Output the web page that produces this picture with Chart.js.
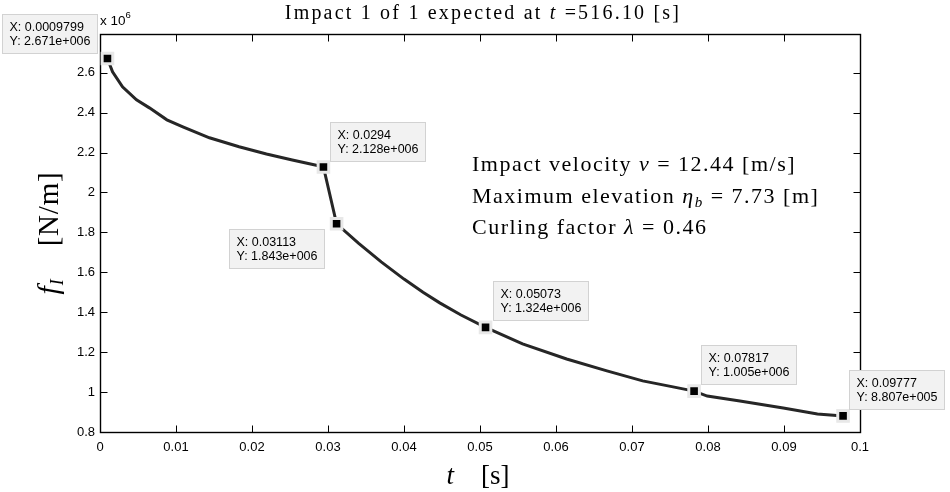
<!DOCTYPE html>
<html>
<head>
<meta charset="utf-8">
<script src="https://cdn.jsdelivr.net/npm/chart.js@4/dist/chart.umd.min.js"></script>
<style>
  html, body { margin: 0; padding: 0; background: #ffffff; }
  #wrap { width: 950px; height: 492px; }
</style>
</head>
<body>
<div id="wrap"><canvas id="chart" width="950" height="492"></canvas></div>
<script>
// Impact force time history f_I(t)
const timeS = [0.0009799, 0.00165, 0.00296, 0.0048, 0.0065, 0.0088, 0.0109, 0.0144, 0.0183,
  0.0219, 0.0253, 0.0289, 0.0294, 0.03113, 0.0340, 0.0370, 0.0400, 0.0425, 0.0447, 0.0475,
  0.05073, 0.0556, 0.0614, 0.0667, 0.0714, 0.0754, 0.07817, 0.0799, 0.0842, 0.0899, 0.0944, 0.09777];
const forceNm = [2.671e6, 2.605e6, 2.529e6, 2.464e6, 2.424e6, 2.364e6, 2.329e6, 2.274e6, 2.229e6,
  2.193e6, 2.163e6, 2.133e6, 2.128e6, 1.843e6, 1.746e6, 1.652e6, 1.566e6, 1.500e6, 1.447e6, 1.386e6,
  1.324e6, 1.241e6, 1.166e6, 1.106e6, 1.056e6, 1.026e6, 1.005e6, 0.980e6, 0.955e6, 0.920e6, 0.890e6, 8.807e5];

// Data cursor points
const tipTime = [0.0009799, 0.0294, 0.03113, 0.05073, 0.07817, 0.09777];
const tipForce = [2.671e6, 2.128e6, 1.843e6, 1.324e6, 1.005e6, 8.807e5];
const tipXText = ['0.0009799', '0.0294', '0.03113', '0.05073', '0.07817', '0.09777'];
const tipYText = ['2.671e+006', '2.128e+006', '1.843e+006', '1.324e+006', '1.005e+006', '8.807e+005'];

// Axis ticks
const xTicks = [0, 0.01, 0.02, 0.03, 0.04, 0.05, 0.06, 0.07, 0.08, 0.09, 0.1];
const xTickLabels = ['0', '0.01', '0.02', '0.03', '0.04', '0.05', '0.06', '0.07', '0.08', '0.09', '0.1'];
const yTicks = [0.8e6, 1.0e6, 1.2e6, 1.4e6, 1.6e6, 1.8e6, 2.0e6, 2.2e6, 2.4e6, 2.6e6];
const yTickLabels = ['0.8', '1', '1.2', '1.4', '1.6', '1.8', '2', '2.2', '2.4', '2.6'];

const SANS = "'Liberation Sans', Arial, sans-serif";
const SERIF = "'Liberation Serif', 'Times New Roman', serif";

// Draw a sequence of text runs with individual fonts / vertical shifts
function drawRuns(ctx, runs, x, y, align, spacing) {
  const widths = runs.map(r => { ctx.font = r.font; ctx.letterSpacing = (r.ls ?? spacing ?? 0) + 'px'; return ctx.measureText(r.t).width; });
  const total = widths.reduce((a, b) => a + b, 0);
  let cx = align === 'center' ? x - total / 2 : x;
  runs.forEach((r, i) => {
    ctx.font = r.font;
    ctx.letterSpacing = (r.ls ?? spacing ?? 0) + 'px';
    ctx.fillText(r.t, cx, y + (r.dy || 0));
    cx += widths[i];
  });
  ctx.letterSpacing = '0px';
}

// Axes box with inward ticks on all four sides, plus labels and data tips
const framePlugin = {
  id: 'frame',
  beforeDatasetsDraw(chart) {
    const { ctx, chartArea: a, scales: { x, y } } = chart;
    ctx.save();
    ctx.strokeStyle = '#000';
    ctx.lineWidth = 1;
    const L = Math.round(a.left) + 0.5, R = Math.round(a.right) + 0.5;
    const T = Math.round(a.top) + 0.5, B = Math.round(a.bottom) + 0.5;
    const tl = 7;
    ctx.beginPath();
    xTicks.forEach(v => {
      const px = Math.round(x.getPixelForValue(v)) + 0.5;
      ctx.moveTo(px, B); ctx.lineTo(px, B - tl);
      ctx.moveTo(px, T); ctx.lineTo(px, T + tl);
    });
    yTicks.forEach(v => {
      const py = Math.round(y.getPixelForValue(v)) + 0.5;
      ctx.moveTo(L, py); ctx.lineTo(L + tl, py);
      ctx.moveTo(R, py); ctx.lineTo(R - tl, py);
    });
    ctx.stroke();
    ctx.lineWidth = 1.4;
    ctx.strokeRect(L, T, R - L, B - T);
    ctx.restore();
  },
  afterDatasetsDraw(chart) {
    const { ctx, chartArea: a, scales: { x, y } } = chart;
    ctx.save();
    ctx.fillStyle = '#000';
    ctx.textBaseline = 'alphabetic';
    const midX = (a.left + a.right) / 2;
    const midY = (a.top + a.bottom) / 2;

    // Title
    drawRuns(ctx, [
      { t: 'Impact 1 of 1 expected at ', font: `20px ${SERIF}` },
      { t: 't', font: `italic 20px ${SERIF}` },
      { t: ' =516.10 [s]', font: `20px ${SERIF}` }
    ], midX + 3, 19, 'center', 2.2);

    // Exponent marker
    drawRuns(ctx, [
      { t: 'x 10', font: `13.5px ${SANS}` },
      { t: '6', font: `9.5px ${SANS}`, dy: -7 }
    ], a.left, 25, 'left', 0);

    // Impact summary text
    const tx = a.left + 372;
    drawRuns(ctx, [
      { t: 'Impact velocity ', font: `22px ${SERIF}` },
      { t: 'v', font: `italic 22px ${SERIF}` },
      { t: ' = 12.44 [m/s]', font: `22px ${SERIF}` }
    ], tx, a.top + 137, 'left', 1.5);
    drawRuns(ctx, [
      { t: 'Maximum elevation ', font: `22px ${SERIF}` },
      { t: 'η', font: `italic 22px ${SERIF}` },
      { t: 'b', font: `italic 15px ${SERIF}`, dy: 4 },
      { t: ' = 7.73 [m]', font: `22px ${SERIF}` }
    ], tx, a.top + 169, 'left', 1.5);
    drawRuns(ctx, [
      { t: 'Curling factor ', font: `22px ${SERIF}` },
      { t: 'λ', font: `italic 22px ${SERIF}` },
      { t: ' = 0.46', font: `22px ${SERIF}` }
    ], tx, a.top + 200, 'left', 1.5);

    // Axis titles
    drawRuns(ctx, [
      { t: 't', font: `italic 27px ${SERIF}` },
      { t: '    [s]', font: `27px ${SERIF}` }
    ], midX - 2, 484, 'center', 0);

    ctx.save();
    ctx.translate(58, midY);
    ctx.rotate(-Math.PI / 2);
    drawRuns(ctx, [
      { t: 'f', font: `italic 30px ${SERIF}` },
      { t: 'I', font: `italic 18px ${SERIF}`, dy: 5 },
      { t: '    [N/m]', font: `29px ${SERIF}` }
    ], 0, 0, 'center', 0.8);
    ctx.restore();

    // Data tips
    const offsets = [[-105, -45], [7, -45], [-108, 5], [7, -46], [7, -46], [6, -46]];
    ctx.font = `12.5px ${SANS}`;
    tipTime.forEach((t, i) => {
      const mx = x.getPixelForValue(t), my = y.getPixelForValue(tipForce[i]);
      const l1 = 'X: ' + tipXText[i], l2 = 'Y: ' + tipYText[i];
      const w = Math.round(Math.max(ctx.measureText(l1).width, ctx.measureText(l2).width) + 14);
      const h = 39;
      const bx = Math.round(mx + offsets[i][0]) + 0.5, by = Math.round(my + offsets[i][1]) + 0.5;
      ctx.fillStyle = '#f2f2f2';
      ctx.fillRect(bx, by, w, h);
      ctx.strokeStyle = '#d2d2d2';
      ctx.lineWidth = 1;
      ctx.strokeRect(bx, by, w, h);
      ctx.fillStyle = '#000';
      ctx.fillText(l1, bx + 7, by + 16);
      ctx.fillText(l2, bx + 7, by + 30);
    });
    ctx.restore();
  }
};

new Chart(document.getElementById('chart'), {
  type: 'scatter',
  data: {
    datasets: [
      {
        data: timeS.map((t, i) => ({ x: t, y: forceNm[i] })),
        showLine: true,
        borderColor: '#262626',
        borderWidth: 3,
        pointRadius: 0,
        tension: 0,
        order: 2
      },
      {
        data: tipTime.map((t, i) => ({ x: t, y: tipForce[i] })),
        showLine: false,
        pointStyle: 'rect',
        pointRadius: 7.5,
        backgroundColor: '#000',
        borderColor: '#e8e8e8',
        borderWidth: 3,
        order: 1
      }
    ]
  },
  options: {
    responsive: false,
    animation: false,
    events: [],
    layout: { padding: { left: 0, top: 34, right: 90, bottom: 0 } },
    plugins: { legend: { display: false }, tooltip: { enabled: false }, title: { display: false } },
    scales: {
      x: {
        type: 'linear',
        min: 0,
        max: 0.1,
        afterBuildTicks: s => { s.ticks = xTicks.map(v => ({ value: v })); },
        afterFit: s => { s.height = 60; },
        grid: { display: false, drawTicks: false },
        border: { display: false },
        ticks: {
          autoSkip: false,
          maxRotation: 0,
          padding: 8,
          color: '#000',
          font: { family: SANS, size: 13 },
          callback: (v, i) => xTickLabels[i]
        }
      },
      y: {
        type: 'linear',
        min: 0.8e6,
        max: 2.794e6,
        afterBuildTicks: s => { s.ticks = yTicks.map(v => ({ value: v })); },
        afterFit: s => { s.width = 100; },
        grid: { display: false, drawTicks: false },
        border: { display: false },
        ticks: {
          autoSkip: false,
          padding: 5,
          color: '#000',
          font: { family: SANS, size: 13 },
          callback: (v, i) => yTickLabels[i]
        }
      }
    }
  },
  plugins: [framePlugin]
});
</script>
</body>
</html>
